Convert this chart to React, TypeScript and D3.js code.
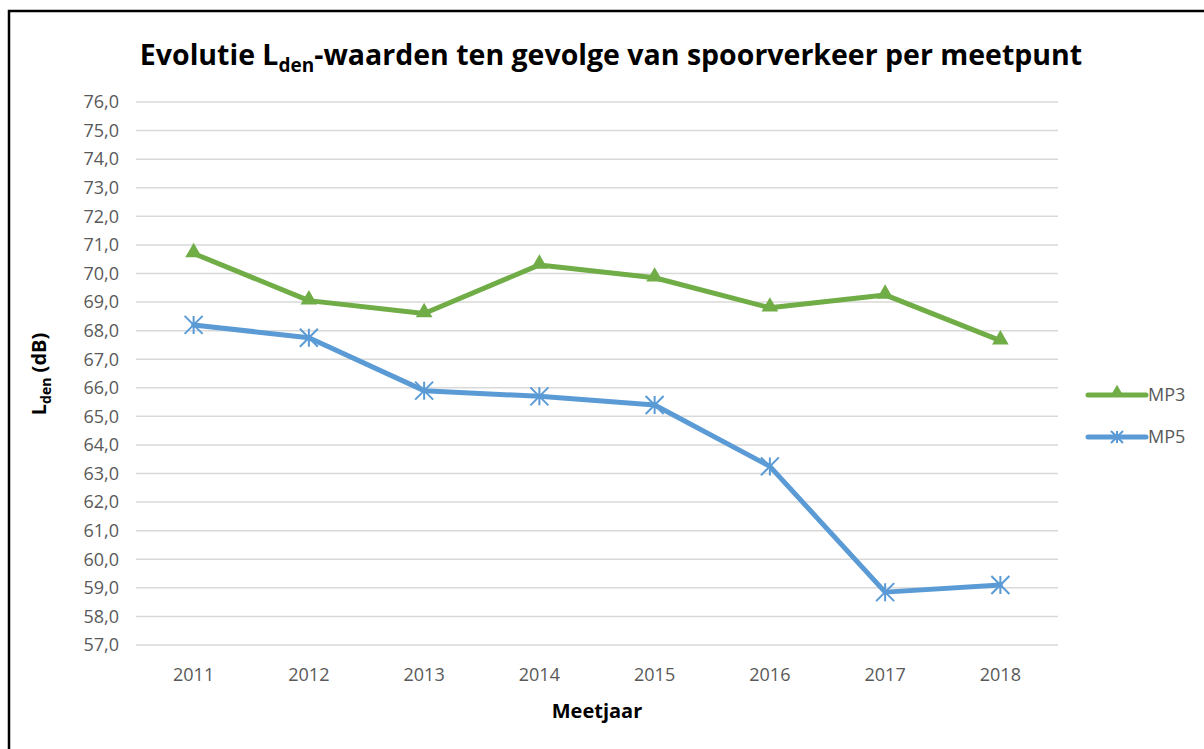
import * as d3 from "d3";

const years = ["2011", "2012", "2013", "2014", "2015", "2016", "2017", "2018"];
const mp3 = [70.7, 69.05, 68.6, 70.3, 69.85, 68.8, 69.25, 67.65];
const mp5 = [68.2, 67.75, 65.9, 65.7, 65.4, 63.25, 58.85, 59.1];
const yTicks = d3.range(57, 77, 1);

const W = 1204;
const H = 749;
const GREEN = "#70AD47";
const BLUE = "#5B9BD5";
const FONT = "'Open Sans', 'Noto Sans', sans-serif";

const x = d3.scaleBand<string>().domain(years).range([136, 1058]);
const y = d3.scaleLinear().domain([57, 76]).range([645, 102]);
const cx = (yr: string) => (x(yr) ?? 0) + x.bandwidth() / 2;

const line = d3.line<number>()
  .x((_, i) => cx(years[i]))
  .y(d => y(d));

const tri = d3.symbol(d3.symbolTriangle, 120)();

function Star({ px, py, r = 9 }: { px: number; py: number; r?: number }) {
  // Excel style asterisk marker
  const d = `M${px - r},${py - r}L${px + r},${py + r}M${px - r},${py + r}L${px + r},${py - r}M${px},${py - r}L${px},${py + r}`;
  return <path d={d} stroke={BLUE} strokeWidth={2} fill="none" />;
}

export default function App() {
  return (
    <div style={{ position: "absolute", left: 0, top: 0 }}>
      <svg width={W} height={H} style={{ display: "block", background: "#fff" }}>
        <rect x={9} y={11} width={W + 20} height={H + 20} fill="#fff" stroke="#000" strokeWidth={2.5} />

        <text x={611} y={65} textAnchor="middle" fontFamily={FONT} fontWeight="bold" fontSize={28.5} fill="#000">
          Evolutie L<tspan fontSize={19} dy={7}>den</tspan><tspan dy={-7}>-waarden ten gevolge van spoorverkeer per meetpunt</tspan>
        </text>

        {yTicks.map(t => (
          <g key={t}>
            <line x1={136} x2={1058} y1={y(t)} y2={y(t)} stroke="#d9d9d9" strokeWidth={1.5} />
            <text x={119} y={y(t)} dy="0.35em" textAnchor="end" fontFamily={FONT} fontSize={18} fill="#595959">
              {d3.format(".1f")(t).replace(".", ",")}
            </text>
          </g>
        ))}

        {years.map(yr => (
          <text key={yr} x={cx(yr)} y={681} textAnchor="middle" fontFamily={FONT} fontSize={18} fill="#595959">
            {yr}
          </text>
        ))}

        <text x={597} y={718} textAnchor="middle" fontFamily={FONT} fontWeight="bold" fontSize={20} fill="#000">
          Meetjaar
        </text>

        <text transform={`translate(46,374) rotate(-90)`} textAnchor="middle" fontFamily={FONT} fontWeight="bold" fontSize={20} fill="#000">
          L<tspan fontSize={14} dy={5}>den</tspan><tspan dy={-5}> (dB)</tspan>
        </text>

        <path d={line(mp3) ?? ""} fill="none" stroke={GREEN} strokeWidth={5} strokeLinejoin="round" strokeLinecap="round" />
        <path d={line(mp5) ?? ""} fill="none" stroke={BLUE} strokeWidth={5} strokeLinejoin="round" strokeLinecap="round" />

        {mp3.map((v, i) => (
          <path key={i} d={tri ?? ""} transform={`translate(${cx(years[i])},${y(v) - 1})`} fill={GREEN} />
        ))}
        {mp5.map((v, i) => (
          <Star key={i} px={cx(years[i])} py={y(v)} />
        ))}

        <g>
          <line x1={1088} x2={1146} y1={395} y2={395} stroke={GREEN} strokeWidth={5} strokeLinecap="round" />
          <path d={d3.symbol(d3.symbolTriangle, 70)() ?? ""} transform="translate(1117,392)" fill={GREEN} />
          <text x={1148} y={395} dy="0.35em" fontFamily={FONT} fontSize={18} fill="#595959">MP3</text>
          <line x1={1088} x2={1146} y1={437} y2={437} stroke={BLUE} strokeWidth={5} strokeLinecap="round" />
          <Star px={1117} py={437} r={6} />
          <text x={1148} y={437} dy="0.35em" fontFamily={FONT} fontSize={18} fill="#595959">MP5</text>
        </g>
      </svg>
    </div>
  );
}
